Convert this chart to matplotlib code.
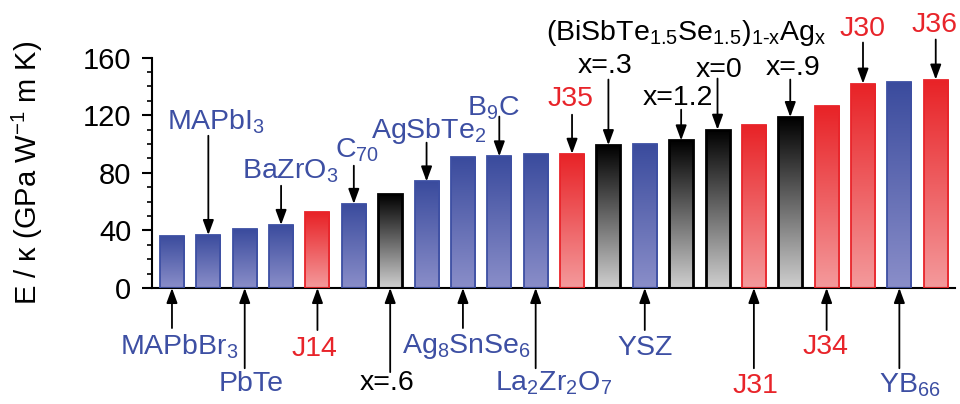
import numpy as np
import matplotlib
matplotlib.use('Agg')
import matplotlib.pyplot as plt
from matplotlib.colors import LinearSegmentedColormap
from matplotlib.patches import ArrowStyle
from matplotlib.ticker import MultipleLocator

plt.rcParams['font.family'] = ['Liberation Sans', 'DejaVu Sans']
plt.rcParams['mathtext.fontset'] = 'custom'
plt.rcParams['mathtext.rm'] = 'Liberation Sans'
plt.rcParams['mathtext.it'] = 'Liberation Sans:italic'
plt.rcParams['mathtext.bf'] = 'Liberation Sans:bold'

# ===================== 数据 =====================
materials = ['MAPbBr$_3$', 'MAPbI$_3$', 'PbTe', 'BaZrO$_3$', 'J14', 'C$_{70}$', 'x=.6',
             'AgSbTe$_2$', 'Ag$_8$SnSe$_6$', 'B$_9$C', 'La$_2$Zr$_2$O$_7$', 'J35', 'x=.3',
             'YSZ', 'x=1.2', 'x=0', 'J31', 'x=.9', 'J34', 'J30', 'YB$_{66}$', 'J36']
e_over_kappa = [36.4, 36.8, 40.8, 43.8, 52.6, 58.4, 65.2, 74.0, 90.7, 91.4, 92.7, 93.2,
                99.2, 99.7, 102.5, 109.9, 113.2, 118.7, 126.6, 141.9, 143.3, 144.7]
group = ['lit', 'lit', 'lit', 'lit', 'this', 'lit', 'alloy', 'lit', 'lit', 'lit', 'lit', 'this',
         'alloy', 'lit', 'alloy', 'alloy', 'this', 'alloy', 'this', 'this', 'lit', 'this']
y_ticks = [0, 40, 80, 120, 160]

# ===================== 样式 =====================
grad = {'lit': ('#3a4b9d', '#8a8ec9'), 'this': ('#e82226', '#f49a9c'), 'alloy': ('#000000', '#cfcfcf')}
edge = {'lit': '#3d4fa3', 'this': '#e8242a', 'alloy': '#000000'}
text_col = {'lit': '#3d4fa3', 'this': '#e8242a', 'alloy': '#000000'}
FS = 20.5

# 标签位置: (上/下, 箭头起点y, 文字x, 文字基线y)
label_layout = {
    0: ('below', -27.8, 0.21, -45.9),
    1: ('above', 105.7, 1.20, 109.9),
    2: ('below', -55.7, 2.17, -71.7),
    3: ('above', 71.0, 3.25, 75.8),
    4: ('below', -29.2, 3.92, -47.3),
    5: ('above', 84.9, 5.09, 90.4),
    6: ('below', -58.4, 5.91, -71.0),
    7: ('above', 100.9, 7.07, 104.3),
    8: ('below', -27.8, 8.09, -45.2),
    9: ('above', 119.0, 8.83, 120.0),
    10: ('below', -55.7, 10.50, -71.0),
    11: ('above', 120.3, 10.95, 126.6),
    12: ('above', 144.7, 11.90, 149.5),
    13: ('below', -29.2, 13.00, -46.6),
    14: ('above', 123.8, 13.90, 127.3),
    15: ('above', 145.4, 15.04, 146.8),
    16: ('below', -55.7, 16.03, -73.0),
    17: ('above', 144.7, 17.08, 148.2),
    18: ('below', -29.2, 17.97, -45.9),
    19: ('above', 170.4, 18.98, 174.6),
    20: ('below', -55.7, 20.30, -72.3),
    21: ('above', 172.5, 20.96, 178.0),
}

fig = plt.figure(figsize=(9.6, 4.04), dpi=100)
ax = fig.add_axes([0.1583, 0.2871, 0.8365, 0.5705])

x = np.arange(len(materials))
width = 0.66
bars = ax.bar(x, e_over_kappa, width=width, facecolor='none', zorder=3)

# 每根柱子内部做竖直渐变（上深下浅）
gradient = np.linspace(0, 1, 256).reshape(-1, 1)
for i, b in enumerate(bars):
    g = group[i]
    cmap = LinearSegmentedColormap.from_list('g%d' % i, [grad[g][1], grad[g][0]])
    im = ax.imshow(gradient, cmap=cmap, origin='lower', aspect='auto', zorder=2,
                   extent=[b.get_x(), b.get_x() + b.get_width(), 0, b.get_height()])
    im.set_clip_path(b)
    b.set_edgecolor(edge[g])
    b.set_linewidth(2.0 if g == 'alloy' else 1.3)

# 箭头与标注
astyle = ArrowStyle('-|>', head_length=0.6, head_width=0.22)
for i, (side, y0, tx, ty) in label_layout.items():
    g = group[i]
    y_end = e_over_kappa[i] if side == 'above' else 0
    ax.annotate('', xy=(x[i], y_end), xytext=(x[i], y0),
                arrowprops=dict(arrowstyle=astyle, mutation_scale=15, lw=1.3, color='black',
                                shrinkA=0, shrinkB=0), annotation_clip=False)
    ax.text(tx, ty, materials[i], color=text_col[g], fontsize=FS, ha='center', va='baseline',
            clip_on=False)

ax.text(14.14, 172, r'(BiSbTe$_{1.5}$Se$_{1.5}$)$_{1\text{-}\mathrm{x}}$Ag$_\mathrm{x}$',
        fontsize=FS, ha='center', va='baseline', clip_on=False)

ax.set_xlim(-0.55, 21.53)
ax.set_ylim(0, 160)
ax.set_yticks(y_ticks)
ax.yaxis.set_minor_locator(MultipleLocator(10))
ax.set_xticks([])
ax.spines['top'].set_visible(False)
ax.spines['right'].set_visible(False)
ax.spines['left'].set_linewidth(1.5)
ax.spines['bottom'].set_linewidth(1.5)
ax.tick_params(axis='y', which='major', direction='out', length=7, width=1.5, labelsize=21, pad=8)
ax.tick_params(axis='y', which='minor', direction='out', length=3.5, width=1.2)

ax.set_ylabel(r'E / κ (GPa W$^{-1}$ m K)', fontsize=21)
ax.yaxis.set_label_coords(-0.133, 0.5)

plt.savefig('out.png', dpi=100)
